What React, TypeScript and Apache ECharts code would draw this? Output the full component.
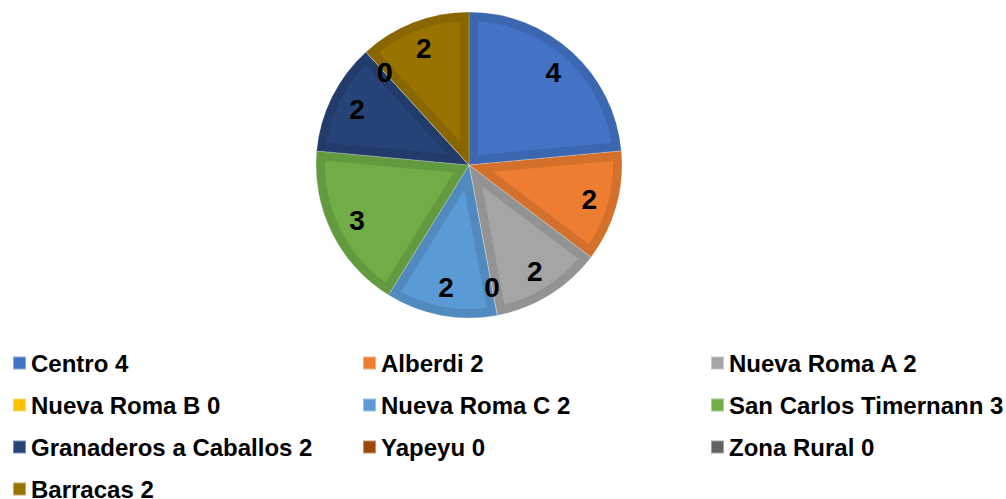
import React, { useEffect, useRef } from "react";
import * as echarts from "echarts";

const names = [
  "Centro",
  "Alberdi",
  "Nueva Roma A",
  "Nueva Roma B",
  "Nueva Roma C",
  "San Carlos Timernann",
  "Granaderos a Caballos",
  "Yapeyu",
  "Zona Rural",
  "Barracas",
];
const values = [4, 2, 2, 0, 2, 3, 2, 0, 0, 2];
const lightColors = [
  "#4472C4", "#ED7D31", "#A5A5A5", "#FFC000", "#5B9BD5",
  "#70AD47", "#264478", "#9E480E", "#636363", "#997300",
];
const darkColors = [
  "#3B66B0", "#D3702C", "#939393", "#E3AB00", "#518ABE",
  "#649A3F", "#213C6B", "#8C400C", "#585858", "#886600",
];
const legendColumns = [
  ["Centro", "Nueva Roma B", "Granaderos a Caballos", "Barracas"],
  ["Alberdi", "Nueva Roma C", "Yapeyu"],
  ["Nueva Roma A", "San Carlos Timernann", "Zona Rural"],
];

const FONT = "'Liberation Sans', Arial, sans-serif";
const CX = 469;
const CY = 165;
const R = 153;
const BAND = 9;
const LABEL_R = 125;

export default function App() {
  const ref = useRef<HTMLDivElement>(null);
  useEffect(() => {
    document.body.style.margin = "0";
    if (!ref.current) return;
    const chart = echarts.init(ref.current, null, { renderer: "svg" });
    const total = values.reduce((a, b) => a + b, 0);
    const valueOf = (n: string) => values[names.indexOf(n)];
    const colLefts = [12, 362, 710];

    const renderItem = (params: any, api: any) => {
      const idx = params.dataIndex;
      const v = api.value(0);
      let before = 0;
      for (let i = 0; i < idx; i++) before += values[i];
      const a0 = (before / total) * Math.PI * 2;
      const a1 = ((before + v) / total) * Math.PI * 2;
      const pt = (r: number, a: number) => [CX + r * Math.sin(a), CY - r * Math.cos(a)];
      const children: any[] = [];
      if (v > 0) {
        const half = (a1 - a0) / 2;
        const mid = a0 + half;
        const apex = pt(BAND / Math.sin(half), mid);
        const rin = R - BAND;
        const da = Math.asin(BAND / rin);
        const t = Math.sqrt(rin * rin - BAND * BAND);
        const e0 = [CX + t * Math.sin(a0) + BAND * Math.cos(a0), CY - t * Math.cos(a0) + BAND * Math.sin(a0)];
        const e1 = [CX + t * Math.sin(a1) - BAND * Math.cos(a1), CY - t * Math.cos(a1) - BAND * Math.sin(a1)];
        const pts: number[][] = [apex, e0];
        const s = a0 + da;
        const e = a1 - da;
        const n = 40;
        for (let k = 0; k <= n; k++) pts.push(pt(rin, s + ((e - s) * k) / n));
        pts.push(e1);
        children.push({
          type: "polygon",
          shape: { points: pts },
          style: { fill: lightColors[idx] },
        });
      }
      const mid = (a0 + a1) / 2;
      const lp = pt(LABEL_R, mid);
      children.push({
        type: "text",
        x: lp[0],
        y: lp[1],
        z2: 10,
        style: {
          text: String(v),
          fontSize: 28,
          fontWeight: "bold",
          fontFamily: FONT,
          fill: "#000",
          align: "center",
          verticalAlign: "middle",
        },
      });
      return { type: "group", children };
    };

    chart.setOption({
      animation: false,
      legend: legendColumns.map((col, ci) => ({
        orient: "vertical",
        left: colLefts[ci],
        top: 350,
        height: 160,
        padding: 0,
        itemWidth: 13,
        itemHeight: 13,
        itemGap: 16,
        icon: "rect",
        selectedMode: false,
        formatter: (name: string) => name + " " + valueOf(name),
        textStyle: {
          fontSize: 24,
          lineHeight: 26,
          fontWeight: "bold",
          fontFamily: FONT,
          color: "#000",
        },
        data: col.map((n) => ({
          name: n,
          itemStyle: { color: lightColors[names.indexOf(n)] },
        })),
      })),
      series: [
        {
          type: "pie",
          center: [CX, CY],
          radius: R,
          startAngle: 90,
          clockwise: true,
          silent: true,
          label: { show: false },
          labelLine: { show: false },
          itemStyle: { borderWidth: 0.5, borderColor: "rgba(255,255,255,0.4)" },
          data: names.map((n, i) => ({
            name: n,
            value: values[i],
            itemStyle: { color: darkColors[i] },
          })),
        },
        {
          type: "custom",
          coordinateSystem: "none",
          silent: true,
          renderItem,
          data: values,
          z: 5,
        },
      ],
    });
    return () => chart.dispose();
  }, []);
  return <div ref={ref} style={{ width: 1006, height: 499 }} />;
}
